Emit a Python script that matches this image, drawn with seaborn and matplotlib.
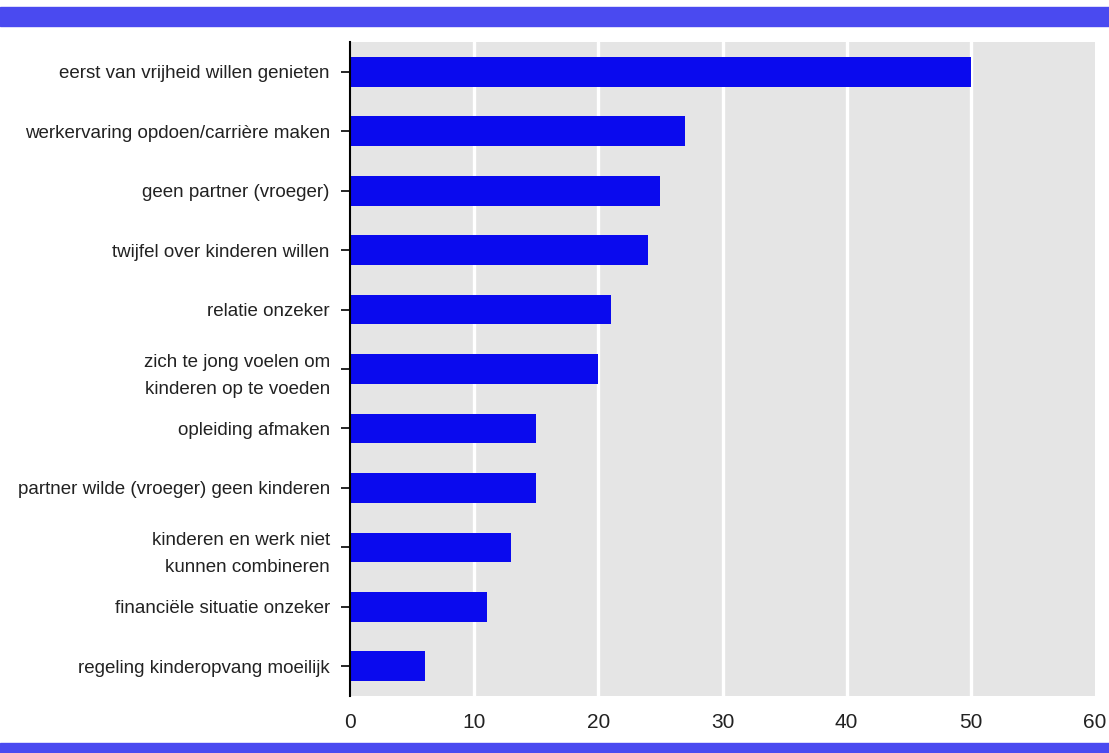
import matplotlib
matplotlib.use("Agg")
import matplotlib.pyplot as plt
import seaborn as sns
import pandas as pd
from matplotlib.patches import Rectangle

# Reasons for postponing children (percentages)
reasons = [
    "eerst van vrijheid willen genieten",
    "werkervaring opdoen/carrière maken",
    "geen partner (vroeger)",
    "twijfel over kinderen willen",
    "relatie onzeker",
    "zich te jong voelen om\nkinderen op te voeden",
    "opleiding afmaken",
    "partner wilde (vroeger) geen kinderen",
    "kinderen en werk niet\nkunnen combineren",
    "financiële situatie onzeker",
    "regeling kinderopvang moeilijk",
]
values = [50, 27, 25, 24, 21, 20, 15, 15, 13, 11, 6]
x_ticks = [0, 10, 20, 30, 40, 50, 60]

df = pd.DataFrame({"reden": reasons, "waarde": values})

sns.set_style("white")
plt.rcParams["font.family"] = ["Liberation Sans", "DejaVu Sans"]

fig = plt.figure(figsize=(11.09, 7.53), dpi=100)
ax = fig.add_axes([0.3156, 0.0757, 0.6718, 0.8685])
ax.set_facecolor("#e5e5e5")

sns.barplot(data=df, x="waarde", y="reden", color="#0a0aee", width=0.5,
            saturation=1, linewidth=0, ax=ax, zorder=3)

ax.set_xlim(0, 60)
ax.set_ylim(len(reasons) - 0.5, -0.5)
ax.set_xticks(x_ticks)
ax.set_xticklabels([str(t) for t in x_ticks])
for t in x_ticks[1:-1]:
    ax.axvline(t, color="white", lw=2.4, zorder=1)

ax.set_xlabel("")
ax.set_ylabel("")
for s in ["top", "right", "bottom"]:
    ax.spines[s].set_visible(False)
ax.spines["left"].set_color("black")
ax.spines["left"].set_linewidth(1.5)
ax.spines["left"].set_zorder(4)
ax.tick_params(axis="y", left=True, length=6.5, width=1.2, color="black",
               labelsize=13.5, pad=8, labelcolor="#222222")
ax.tick_params(axis="x", bottom=False, labelsize=15, pad=9, labelcolor="#222222")
for lab in ax.get_yticklabels():
    lab.set_horizontalalignment("right")
    lab.set_multialignment("right")
    lab.set_linespacing(1.75)

# decorative bands top and bottom
fig.patches.append(Rectangle((0, 0.9655), 1, 0.0252, transform=fig.transFigure,
                             color="#4a4af0", zorder=0))
fig.patches.append(Rectangle((0, 0), 1, 0.0133, transform=fig.transFigure,
                             color="#4a4af0", zorder=0))

fig.savefig("out.png", dpi=100)
